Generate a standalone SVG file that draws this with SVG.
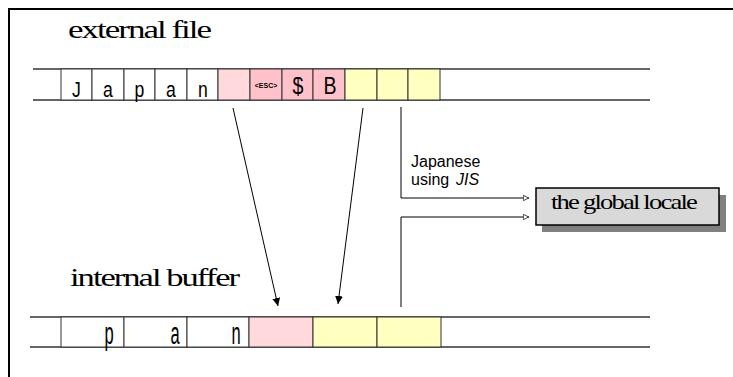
<svg xmlns="http://www.w3.org/2000/svg" width="733" height="377" viewBox="0 0 733 377">
  <style>
    .title { font-family: "Liberation Serif", "Times New Roman", serif; fill: #000; letter-spacing: -1.5px; }
    .t26 { font-size: 26px; }
    .t22 { font-size: 22px; }
    .cellTxt { font-family: "Liberation Sans", Arial, sans-serif; font-size: 22px; fill: #000; text-anchor: middle; }
    .big { font-size: 23px; }
    .tiny { font-size: 7px; font-weight: bold; }
    .note { font-family: "Liberation Sans", Arial, sans-serif; font-size: 16px; fill: #000; }
    .rail { stroke: #333; stroke-width: 1.3; fill: none; }
    .cell { stroke: #333; stroke-width: 1; }
    .white { fill: #ffffff; }
    .pinkLight { fill: #ffd9dc; }
    .pink { fill: #ffc2cb; }
    .yellow { fill: #ffffc0; }
    .link { stroke: #000; stroke-width: 1; fill: none; }
  </style>
  <defs>
    <marker id="solidHead" viewBox="0 0 10 10" refX="10" refY="5" markerWidth="8" markerHeight="12" markerUnits="userSpaceOnUse" orient="auto">
      <path d="M0,0 L10,5 L0,10 Z" fill="#000"/>
    </marker>
    <marker id="openHead" viewBox="0 0 10 10" refX="10" refY="5" markerWidth="7" markerHeight="6" markerUnits="userSpaceOnUse" orient="auto">
      <path d="M0.5,0.5 L9.5,5 L0.5,9.5 Z" fill="#fff" stroke="#000" stroke-width="1.2"/>
    </marker>
  </defs>

  <rect x="0" y="0" width="733" height="377" fill="#fff"/>
  <!-- outer frame (right and bottom run past the canvas) -->
  <rect x="9" y="9" width="740" height="380" fill="none" stroke="#000" stroke-width="2"/>

  <!-- external file strip -->
  <g id="external-file">
    <text class="title t26" x="68" y="38" textLength="142" lengthAdjust="spacingAndGlyphs">external file</text>
    <line class="rail" x1="33" y1="69" x2="650" y2="69"/>
    <line class="rail" x1="33" y1="100" x2="650" y2="100"/>
    <rect class="cell white" x="61" y="69" width="31" height="31"/>
    <rect class="cell white" x="92" y="69" width="32" height="31"/>
    <rect class="cell white" x="124" y="69" width="31" height="31"/>
    <rect class="cell white" x="155" y="69" width="32" height="31"/>
    <rect class="cell white" x="187" y="69" width="31" height="31"/>
    <rect class="cell pinkLight" x="218" y="69" width="32" height="31"/>
    <rect class="cell pink" x="250" y="69" width="32" height="31"/>
    <rect class="cell pink" x="282" y="69" width="31" height="31"/>
    <rect class="cell pink" x="313" y="69" width="32" height="31"/>
    <rect class="cell yellow" x="345" y="69" width="32" height="31"/>
    <rect class="cell yellow" x="377" y="69" width="31" height="31"/>
    <rect class="cell yellow" x="408" y="69" width="32" height="31"/>
    <text class="cellTxt" transform="translate(76.5,96.5) scale(0.8,1)">J</text>
    <text class="cellTxt" transform="translate(108,96.5) scale(0.8,1)">a</text>
    <text class="cellTxt" transform="translate(139.5,96.5) scale(0.8,1)">p</text>
    <text class="cellTxt" transform="translate(171,96.5) scale(0.8,1)">a</text>
    <text class="cellTxt" transform="translate(203,96.5) scale(0.8,1)">n</text>
    <text class="cellTxt tiny" x="266" y="87.5">&lt;ESC&gt;</text>
    <text class="cellTxt big" transform="translate(298,94) scale(0.85,1)">$</text>
    <text class="cellTxt big" transform="translate(330,94) scale(0.85,1)">B</text>
  </g>

  <!-- internal buffer strip -->
  <g id="internal-buffer">
    <text class="title t26" x="70" y="286" textLength="168" lengthAdjust="spacingAndGlyphs">internal buffer</text>
    <line class="rail" x1="30" y1="317" x2="650" y2="317"/>
    <line class="rail" x1="30" y1="347" x2="650" y2="347"/>
    <rect class="cell white" x="61" y="317" width="63" height="30"/>
    <rect class="cell white" x="124" y="317" width="63" height="30"/>
    <rect class="cell white" x="187" y="317" width="62" height="30"/>
    <rect class="cell pinkLight" x="249" y="317" width="64" height="30"/>
    <rect class="cell yellow" x="313" y="317" width="64" height="30"/>
    <rect class="cell yellow" x="377" y="317" width="64" height="30"/>
    <text class="cellTxt" transform="translate(109,344) scale(0.75,1.4)">p</text>
    <text class="cellTxt" transform="translate(175,344) scale(0.75,1.4)">a</text>
    <text class="cellTxt" transform="translate(236,344) scale(0.75,1.4)">n</text>
  </g>

  <!-- global locale box -->
  <g id="global-locale">
    <rect x="542" y="195" width="184" height="37" fill="#808080"/>
    <rect x="536" y="188" width="183" height="37" fill="#d9d9d9" stroke="#000" stroke-width="1.5"/>
    <text class="title t22" x="551" y="209" textLength="145" lengthAdjust="spacingAndGlyphs">the global locale</text>
  </g>

  <!-- label -->
  <g id="jis-label">
    <text class="note" x="411" y="167">Japanese</text>
    <text class="note" x="411" y="185">using<tspan x="456" font-style="italic">JIS</tspan></text>
  </g>

  <!-- connectors -->
  <g id="connectors">
    <line class="link" x1="233" y1="108" x2="278" y2="306" marker-end="url(#solidHead)"/>
    <line class="link" x1="363" y1="108" x2="338" y2="304" marker-end="url(#solidHead)"/>
    <polyline class="link" points="401,107 401,198 529,198" marker-end="url(#openHead)"/>
    <polyline class="link" points="401,307 401,217 529,217" marker-end="url(#openHead)"/>
  </g>
</svg>
